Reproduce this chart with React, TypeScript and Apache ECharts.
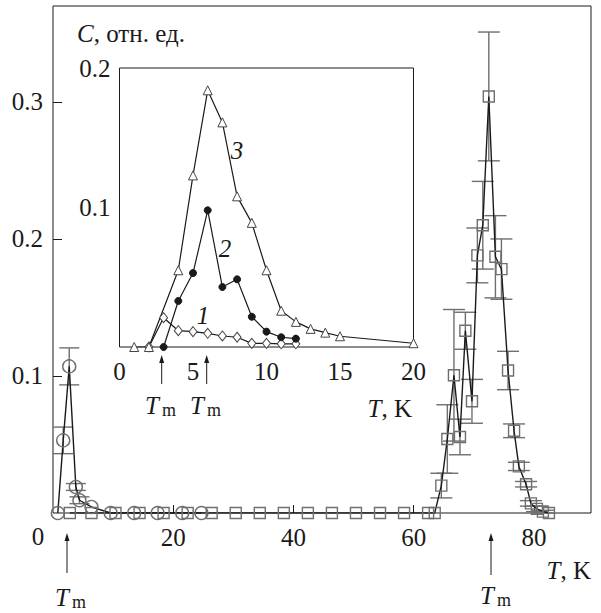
import React, { useEffect, useRef } from "react";
import * as echarts from "echarts";

// Main plot: circles series
const circT = [0.8, 1.7, 2.7, 3.8, 4.4, 6.4, 9.6, 13.5, 17.4, 21.5, 24.7];
const circC = [0, 0.053, 0.107, 0.019, 0.0093, 0.0044, 0, 0, 0, 0, 0];
const circErr = [0, 0.0097, 0.0135, 0.0025, 0.0025, 0, 0, 0, 0, 0, 0];

// Main plot: squares series
const sqT = [2.8, 6.4, 10.4, 14.4, 18.4, 22.4, 26.4, 30.4, 34.4, 38.4, 42.4, 46.4, 50.4, 54.4, 58.4, 62.4, 63.5, 64.6, 65.6, 66.7, 67.7, 68.6, 69.7, 70.6, 71.5, 72.5, 73.6, 74.6, 75.7, 76.7, 77.5, 78.7, 79.5, 80.5, 81.5, 82.5];
const sqC = [0, 0, 0, 0, 0, 0, 0, 0, 0, 0, 0, 0, 0, 0, 0, 0, 0, 0.02, 0.054, 0.1005, 0.0555, 0.133, 0.0815, 0.188, 0.21, 0.304, 0.187, 0.178, 0.104, 0.06, 0.034, 0.021, 0.007, 0.003, 0.001, 0];
const sqErr = [0, 0, 0, 0, 0, 0, 0, 0, 0, 0, 0, 0, 0, 0, 0, 0, 0, 0.009, 0.025, 0.048, 0.013, 0.0135, 0.016, 0.02, 0.032, 0.047, 0.03, 0.022, 0.014, 0.005, 0.003, 0.002, 0.002, 0.002, 0.001, 0];

// Inset series
const s1T = [2, 3, 4, 5, 6, 7, 8, 9, 10, 11, 12];
const s1C = [0, 0.021, 0.0117, 0.011, 0.0098, 0.0079, 0.007, 0.0026, 0.0026, 0.0023, 0.0023];
const s2T = [3, 4, 5, 6, 7, 8, 9, 10, 11, 12];
const s2C = [0, 0.033, 0.053, 0.098, 0.043, 0.0485, 0.0217, 0.011, 0.007, 0.006];
const s3T = [1, 2, 4, 5, 6, 7, 8, 9, 10, 11, 12, 13, 14, 15, 20];
const s3C = [0, 0, 0.055, 0.123, 0.184, 0.161, 0.108, 0.089, 0.055, 0.026, 0.018, 0.013, 0.0103, 0.0077, 0.0027];

const mainYTicks = ["0.1", "0.2", "0.3"];
const insetYTicks = ["0.1", "0.2"];

const FONT = "'Liberation Serif', 'Times New Roman', serif";
const GRAY = "#6f6f6f";
const INK = "#1a1a1a";

const zip = (a: number[], b: number[]) => a.map((v, i) => [v, b[i]]);
const errData = (t: number[], c: number[], e: number[]) =>
  t.map((v, i) => [v, c[i], e[i]]).filter((d) => d[2] > 0);

const errRender = (halfW: number) => (params: any, api: any) => {
  const x = api.value(0);
  const c = api.value(1);
  const e = api.value(2);
  const top = api.coord([x, c + e]);
  const bot = api.coord([x, c - e]);
  const st = { stroke: GRAY, lineWidth: 1.4 };
  return {
    type: "group",
    children: [
      { type: "line", shape: { x1: top[0], y1: top[1], x2: bot[0], y2: bot[1] }, style: st },
      { type: "line", shape: { x1: top[0] - halfW, y1: top[1], x2: top[0] + halfW, y2: top[1] }, style: st },
      { type: "line", shape: { x1: bot[0] - halfW, y1: bot[1], x2: bot[0] + halfW, y2: bot[1] }, style: st },
    ],
  };
};

const fmt1 = (v: number) => v.toFixed(1);

const arrow = (x: number, yTop: number, yBot: number) => [
  { type: "line", shape: { x1: x, y1: yBot, x2: x, y2: yTop + 4 }, style: { stroke: INK, lineWidth: 1 } },
  { type: "polygon", shape: { points: [[x, yTop], [x - 2.5, yTop + 8], [x + 2.5, yTop + 8]] }, style: { fill: INK } },
];

const txt = (x: number, y: number, text: string, align: string, italic: boolean, size = 25) => ({
  type: "text", x, y, z: 10,
  style: { text, fontFamily: FONT, fontSize: size, fontStyle: italic ? "italic" : "normal", fill: INK, align, verticalAlign: "middle" },
});

const richTxt = (x: number, y: number, text: string, align: string) => ({
  type: "text", x, y, z: 10,
  style: {
    text, fontFamily: FONT, fontSize: 25, fill: INK, align, verticalAlign: "middle",
    rich: { i: { fontStyle: "italic", fontFamily: FONT, fontSize: 25, fill: INK } },
  },
});

const tm = (x: number, y: number) => [txt(x, y, "T", "center", true), txt(x + 10, y + 5, "m", "left", false, 18)];

export default function App() {
  const ref = useRef<HTMLDivElement>(null);
  useEffect(() => {
    if (!ref.current) return;
    const chart = echarts.init(ref.current, undefined, { renderer: "svg" });
    const labelStyle = { fontFamily: FONT, fontSize: 25, color: INK };
    chart.setOption({
      animation: false,
      backgroundColor: "#fff",
      grid: [
        { left: 53, top: 6, width: 538, height: 507, show: true, borderColor: INK, borderWidth: 1, backgroundColor: "transparent" },
        { left: 119.5, top: 68, width: 294, height: 279, show: true, borderColor: INK, borderWidth: 1, backgroundColor: "#fff", z: 3 },
      ],
      xAxis: [
        {
          gridIndex: 0, type: "value", min: 0, max: 89.5, interval: 20,
          axisLine: { show: false }, splitLine: { show: false },
          axisTick: { inside: true, length: 8, lineStyle: { color: INK } },
          axisLabel: { ...labelStyle, margin: 12, showMinLabel: false, showMaxLabel: false, formatter: (v: number) => (v > 0 && v < 89 ? String(v) : "") },
        },
        {
          gridIndex: 1, type: "value", min: 0, max: 20, interval: 5,
          axisLine: { show: false }, splitLine: { show: false },
          axisTick: { inside: true, length: 8, lineStyle: { color: INK } },
          axisLabel: { ...labelStyle, margin: 12, formatter: (v: number) => String(v) },
        },
      ],
      yAxis: [
        {
          gridIndex: 0, type: "value", min: 0, max: 0.37, interval: 0.1,
          axisLine: { show: false }, splitLine: { show: false },
          axisTick: { inside: true, length: 9, lineStyle: { color: INK } },
          axisLabel: {
            ...labelStyle, margin: 10, showMinLabel: false, showMaxLabel: false,
            formatter: (v: number) => (mainYTicks.includes(fmt1(v)) && Math.abs(v * 10 - Math.round(v * 10)) < 1e-6 ? fmt1(v) : ""),
          },
        },
        {
          gridIndex: 1, type: "value", min: 0, max: 0.2, interval: 0.1,
          axisLine: { show: false }, splitLine: { show: false },
          axisTick: { inside: true, length: 9, lineStyle: { color: INK } },
          axisLabel: {
            ...labelStyle, margin: 9, showMinLabel: false,
            formatter: (v: number) => (insetYTicks.includes(fmt1(v)) ? fmt1(v) : ""),
          },
        },
      ],
      series: [
        { type: "custom", xAxisIndex: 0, yAxisIndex: 0, renderItem: errRender(10), data: errData(circT, circC, circErr), z: 1 },
        { type: "custom", xAxisIndex: 0, yAxisIndex: 0, renderItem: errRender(11), data: errData(sqT, sqC, sqErr), z: 1 },
        {
          type: "line", xAxisIndex: 0, yAxisIndex: 0, data: zip(circT, circC), symbol: "circle", symbolSize: 13,
          lineStyle: { color: INK, width: 1.4 }, itemStyle: { color: "rgba(255,255,255,0)", borderColor: GRAY, borderWidth: 1.4 }, z: 2,
        },
        {
          type: "line", xAxisIndex: 0, yAxisIndex: 0, data: zip(sqT, sqC), symbol: "rect", symbolSize: 11,
          lineStyle: { color: INK, width: 1.4 }, itemStyle: { color: "rgba(255,255,255,0)", borderColor: GRAY, borderWidth: 1.4 }, z: 2,
        },
        {
          type: "line", xAxisIndex: 1, yAxisIndex: 1, data: zip(s1T, s1C), symbol: "diamond", symbolSize: [8, 10],
          lineStyle: { color: INK, width: 1.2 }, itemStyle: { color: "#fff", borderColor: "#444", borderWidth: 1 }, z: 5,
        },
        {
          type: "line", xAxisIndex: 1, yAxisIndex: 1, data: zip(s2T, s2C), symbol: "circle", symbolSize: 7,
          lineStyle: { color: INK, width: 1.2 }, itemStyle: { color: INK, borderColor: INK, borderWidth: 1 }, z: 6,
        },
        {
          type: "line", xAxisIndex: 1, yAxisIndex: 1, data: zip(s3T, s3C), symbol: "triangle", symbolSize: 9,
          lineStyle: { color: INK, width: 1.2 }, itemStyle: { color: "#fff", borderColor: "#444", borderWidth: 1 }, z: 5,
        },
      ],
      graphic: [
        txt(38, 536, "0", "center", false),
        richTxt(77, 33, "{i|C}, отн. ед.", "left"),
        richTxt(591, 570, "{i|T}, K", "right"),
        richTxt(412, 408, "{i|T}, K", "right"),
        txt(237, 150, "3", "center", true),
        txt(225, 248, "2", "center", true),
        txt(203, 315, "1", "center", true),
        ...arrow(67, 533, 573),
        ...arrow(491, 533, 575),
        ...arrow(161.7, 355, 384),
        ...arrow(206.7, 355, 384),
        ...tm(62, 597),
        ...tm(487, 595),
        ...tm(152, 405),
        ...tm(197, 405),
      ],
    });
    return () => chart.dispose();
  }, []);
  return <div ref={ref} style={{ width: 601, height: 613, position: "absolute", left: 0, top: 0 }} />;
}
